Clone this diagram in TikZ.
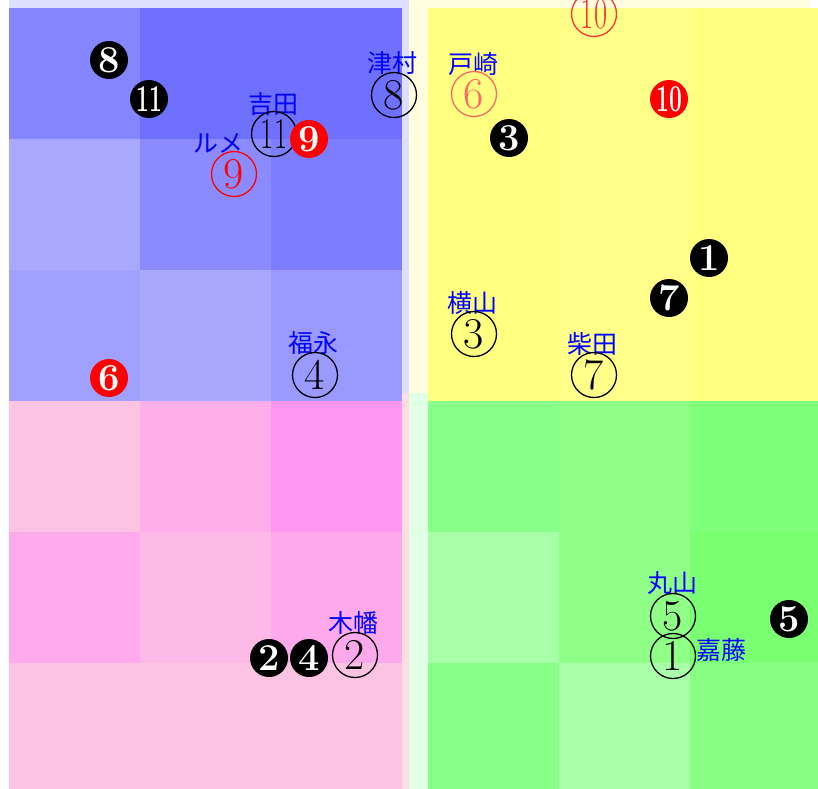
\documentclass[tikz,border=0pt]{standalone}
\usepackage{fontspec}
\newfontfamily\jpfont{Noto Sans CJK JP}
\usetikzlibrary{positioning}

\definecolor{paleblue}{HTML}{DEDEFF}
\definecolor{paleyellow}{HTML}{FFFFE0}
\definecolor{palepink}{HTML}{FFDDE3}
\definecolor{palegreen}{HTML}{E0FFE4}

% 3x3 block of tiles: left, top, nine colours row by row
\newcommand{\tilegrid}[3]{%
  \foreach \c [count=\i from 0] in {#3} {
    \pgfmathtruncatemacro\tcol{mod(\i,3)}
    \pgfmathtruncatemacro\trow{div(\i,3)}
    \definecolor{tilecol}{HTML}{\c}
    \fill[tilecol] ({#1+131*\tcol},{#2+131*\trow}) rectangle ++(131,131);
  }%
}

\begin{document}
\begin{tikzpicture}[x=0.5pt, y=-0.5pt,
  seat/.style={draw, circle, inner sep=0pt, minimum size=22.5pt, line width=0.65pt, font=\fontsize{22}{22}\selectfont},
  done/.style={circle, fill=black, text=white, inner sep=0pt, minimum size=19pt, font=\bfseries\fontsize{19}{19}\selectfont},
  who/.style={text=blue, inner sep=0pt, font=\jpfont\fontsize{12.5}{12.5}\selectfont}
]
\useasboundingbox (0,0) rectangle (818,788);
\clip (0,0) rectangle (818,788);

% quadrant backgrounds
\fill[paleblue] (9,-10) rectangle (409,393);
\fill[paleyellow] (409,-10) rectangle (810,393);
\fill[palepink] (9,393) rectangle (409,800);
\fill[palegreen] (409,393) rectangle (810,800);

% tiles
\tilegrid{9}{8}{8585FF,7070FF,7070FF,A9A9FF,8B8BFF,7D7DFF,A0A0FE,A8A8FF,9999FF}
\tilegrid{428}{8}{FFFF80,FFFF8A,FFFF80,FFFF80,FFFF8A,FFFF80,FFFF80,FFFF8A,FFFF80}
\tilegrid{9}{401}{FCC3E3,FEAEEA,FF96F0,FEAAED,FDB9E7,FEA9EC,FCC3E3,FCC3E3,FCC3E3}
\tilegrid{428}{401}{88FF88,8FFF88,80FF7A,A8FFA8,8FFF88,7AFF72,88FF88,A8FFA8,88FF82}

% blue quadrant
\node[done] (b8) at (109,60) {8};
\node[done] (b11) at (149,99) {\scalebox{0.6}[1]{11}};
\node[who] (yoshida) at (273,104) {吉田};
\node[seat] (s11) at (274,134) {\scalebox{0.65}[1]{11}};
\node[done, fill=red] (b9) at (309,139) {9};
\node[who] (rume) at (218,143) {ルメ};
\node[seat, red] (s9) at (234,174) {9};
\node[who] (tsumura) at (392,63) {津村};
\node[seat] (s8) at (394,95) {8};
\node[who] (fukunaga) at (313,343) {福永};
\node[seat] (s4) at (315,375) {4};
\node[done, fill=red] (b6) at (109,378) {6};

% yellow quadrant
\node[seat, red!80] (s10) at (594,14) {\scalebox{0.65}[1]{10}};
\node[who] (tozaki) at (473,64) {戸崎};
\node[seat, red!60] (s6) at (474,94) {6};
\node[done] (b3) at (509,138) {3};
\node[done, fill=red] (b10) at (669,99) {\scalebox{0.6}[1]{10}};
\node[done] (b1) at (709,258) {1};
\node[done] (b7) at (669,298) {7};
\node[who] (yokoyama) at (472,303) {横山};
\node[seat] (s3) at (474,334) {3};
\node[who] (shibata) at (592,344) {柴田};
\node[seat] (s7) at (594,375) {7};

% pink quadrant
\node[who] (kowata) at (353,623) {木幡};
\node[seat] (s2) at (355,655) {2};
\node[done] (b2) at (269,658) {2};
\node[done] (b4) at (309,658) {4};

% green quadrant
\node[who] (maruyama) at (672,583) {丸山};
\node[seat] (s5) at (673,616) {5};
\node[seat] (s1) at (673,656) {1};
\node[who] (kato) at (721,650) {嘉藤};
\node[done] (b5) at (789,619) {5};
\end{tikzpicture}
\end{document}
